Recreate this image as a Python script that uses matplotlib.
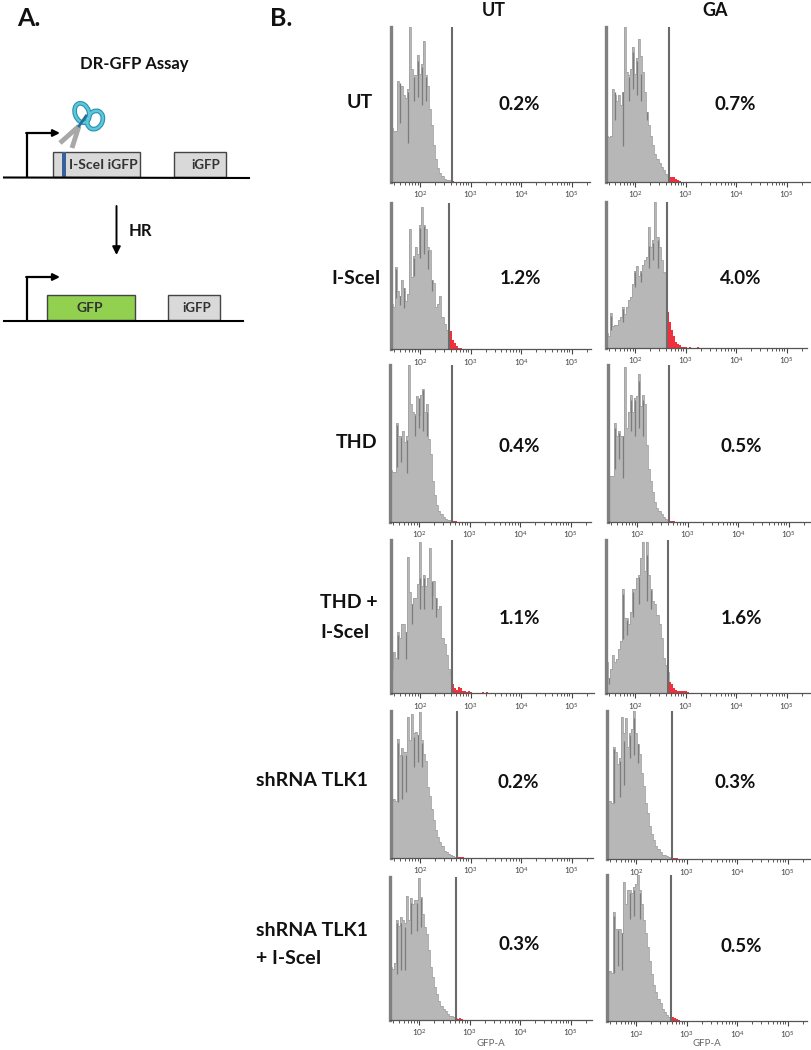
import matplotlib
matplotlib.use("Agg")
import matplotlib.pyplot as plt
import numpy as np
from matplotlib.patches import Ellipse, Rectangle
from matplotlib.ticker import FixedLocator, LogFormatterMathtext, NullFormatter

plt.rcParams['font.family'] = ['Lato', 'DejaVu Sans']

# histogram heights, % of the tallest bin, one value per 0.04 decade from 10^1.42
ut_ut = [35, 33, 33, 65, 62, 62, 56, 54, 60, 100, 73, 69, 69, 82, 70, 76, 91, 69, 62, 47, 37, 24, 15, 9, 6, 4, 2, 1.5, 1, 0.8, 0.5, 0.3]
ut_ga = [30, 29, 30, 60, 56, 52, 56, 50, 58, 100, 71, 69, 73, 87, 70, 80, 92, 81, 71, 58, 45, 37, 30, 24, 18, 15, 12, 10, 8, 5, 4, 3, 3, 3, 2, 1, 0.5, 0.3]
isce_ut = [31, 29, 56, 40, 36, 47, 42, 33, 38, 82, 49, 64, 70, 65, 85, 97, 85, 82, 70, 68, 47, 45, 29, 31, 36, 22, 17, 13, 8, 12, 6, 4, 2, 1, 0.5]
isce_ga = [10, 8, 24, 15, 16, 16, 19, 21, 28, 23, 28, 33, 35, 44, 53, 56, 49, 53, 57, 60, 62, 83, 69, 74, 100, 76, 69, 60, 52, 51,
           25, 18, 12, 8, 4, 3, 2, 1, 1, 0.5, 0, 0.5, 0, 0, 0, 0.5]
thd_ut = [33, 32, 32, 63, 55, 55, 58, 51, 55, 100, 75, 70, 69, 80, 68, 81, 85, 70, 75, 53, 43, 26, 17, 11, 7, 5, 3, 2, 1.5, 1, 0.8, 0.5, 0.4, 0.2]
thd_ga = [29, 29, 29, 63, 55, 58, 55, 55, 99, 60, 70, 81, 70, 79, 80, 94, 74, 81, 75, 49, 34, 26, 19, 13, 9, 7, 5, 3, 2, 1, 0.8, 0.6, 0.4, 0.2]
thd_isce_ut = [16, 27, 23, 40, 36, 45, 45, 40, 89, 66, 58, 62, 62, 71, 99, 70, 77, 70, 75, 95, 64, 73, 62, 55, 57, 36, 32, 25, 16, 12,
               6, 3, 2, 4, 3, 1.5, 1, 0.5, 1.5, 0.5, 0, 0, 0, 0, 0, 0.5, 0, 0.5]
thd_isce_ga = [20, 10, 16, 25, 20, 22, 29, 34, 68, 49, 49, 45, 53, 68, 68, 75, 77, 88, 99, 80, 99, 77, 68, 60, 58, 51, 45, 36, 23, 18, 14,
               7, 6, 3, 2, 1.5, 1, 1, 1, 1, 0.5]
sh_ut = [39, 40, 39, 81, 70, 75, 72, 72, 96, 80, 98, 85, 86, 84, 99, 80, 71, 66, 48, 42, 33, 26, 19, 14, 11, 8, 5, 4, 3, 2, 1.5, 1, 0.8,
         0.8, 0.7, 0.5, 0.3, 0.2]
sh_ga = [39, 39, 38, 76, 72, 64, 68, 96, 85, 95, 76, 85, 88, 100, 85, 78, 71, 58, 49, 38, 31, 22, 17, 13, 9, 7, 5, 3, 3, 2, 1.5, 1,
         0.9, 0.8, 0.5, 0.3, 0.2]
sh_isce_ut = [37, 36, 40, 70, 66, 72, 70, 68, 87, 70, 85, 81, 84, 84, 99, 86, 74, 65, 60, 49, 37, 30, 23, 18, 13, 10, 8, 6, 4, 3, 2.5, 2, 1.5,
              1, 1.2, 0.6, 0.3, 0.2]
sh_isce_ga = [33, 34, 33, 75, 63, 63, 63, 60, 95, 80, 90, 90, 88, 92, 94, 100, 90, 80, 69, 60, 51, 41, 32, 25, 20, 15, 12, 8, 6, 4, 3, 2,
              3, 2.2, 1.2, 0.7, 0.3, 0.2]

# darker streaks inside the fill: bin, low %, high %
ut_ut_dark = [(4, 38, 64), (8, 25, 58), (11, 52, 68), (13, 55, 78), (15, 50, 74), (17, 52, 68)]
ut_ga_dark = [(4, 40, 58), (8, 23, 58), (11, 52, 68), (13, 60, 84), (15, 56, 78), (17, 52, 70), (20, 40, 45)]
isce_ut_dark = [(2, 35, 55), (4, 30, 36), (6, 28, 42), (11, 50, 62), (14, 62, 83), (16, 65, 84), (18, 55, 68), (20, 40, 47)]
isce_ga_dark = [(2, 12, 22), (8, 18, 27), (14, 42, 52), (17, 45, 52), (21, 55, 70), (23, 60, 72), (25, 55, 74)]
thd_ut_dark = [(3, 35, 62), (5, 38, 54), (8, 31, 52), (12, 55, 68), (14, 60, 79), (16, 58, 84), (18, 55, 70)]
thd_ga_dark = [(3, 34, 60), (5, 40, 57), (7, 28, 55), (11, 58, 78), (13, 55, 78), (15, 60, 90), (17, 55, 78)]
thd_isce_ut_dark = [(3, 22, 38), (7, 22, 40), (10, 45, 58), (14, 55, 75), (16, 55, 75), (20, 55, 73), (22, 50, 62)]
thd_isce_ga_dark = [(1, 6, 10), (8, 35, 65), (10, 38, 48), (13, 50, 66), (16, 58, 76), (20, 60, 90), (22, 55, 67)]
sh_ut_dark = [(3, 38, 78), (5, 40, 70), (7, 45, 70), (11, 62, 82), (13, 65, 84), (15, 62, 78)]
sh_ga_dark = [(3, 38, 74), (6, 42, 66), (8, 50, 80), (11, 68, 84), (13, 70, 95), (15, 65, 78)]
sh_isce_ut_dark = [(3, 32, 68), (5, 35, 68), (7, 35, 65), (10, 60, 82), (13, 62, 82), (15, 65, 85)]
sh_isce_ga_dark = [(3, 33, 72), (5, 38, 62), (7, 35, 60), (11, 70, 88), (13, 72, 90), (16, 70, 88)]

series = [[ut_ut, ut_ga], [isce_ut, isce_ga], [thd_ut, thd_ga],
          [thd_isce_ut, thd_isce_ga], [sh_ut, sh_ga], [sh_isce_ut, sh_isce_ga]]
streaks = [[ut_ut_dark, ut_ga_dark], [isce_ut_dark, isce_ga_dark], [thd_ut_dark, thd_ga_dark],
           [thd_isce_ut_dark, thd_isce_ga_dark], [sh_ut_dark, sh_ga_dark], [sh_isce_ut_dark, sh_isce_ga_dark]]

# gate position, log10 of GFP-A
gates = [[2.63, 2.67], [2.57, 2.63], [2.65, 2.63], [2.63, 2.65], [2.73, 2.71], [2.73, 2.69]]
percent_labels = [['0.2%', '0.7%'], ['1.2%', '4.0%'], ['0.4%', '0.5%'],
                  ['1.1%', '1.6%'], ['0.2%', '0.3%'], ['0.3%', '0.5%']]
column_labels = ['UT', 'GA']

FIG_W, FIG_H = 812, 1050
LOG_MIN = 1.42
BIN = 0.04

# pixel layout of the panels
col_left = [[391, 606], [391, 606], [390, 608], [391, 606], [391, 607], [390, 607]]
col_right = [[590, 810], [591, 807], [591, 810], [594, 810], [593, 810], [592, 807]]
row_top = [[27, 27], [203, 202], [365, 365], [540, 540], [711, 711], [877, 875]]
row_base = [[182, 182], [349, 348], [522, 522], [693, 693], [858, 859], [1020, 1021]]
pct_pos = [[(519, 105), (735, 105)], [(520, 279), (741, 279)], [(519, 446), (741, 446)],
           [(519, 618), (741, 618)], [(518, 783), (735, 783)], [(519, 944), (741, 946)]]

fig = plt.figure(figsize=(FIG_W / 100, FIG_H / 100), dpi=100, facecolor='white')

# overlay in pixel coordinates for the schematic and the text
ov = fig.add_axes([0, 0, 1, 1])
ov.set_xlim(0, FIG_W)
ov.set_ylim(FIG_H, 0)
ov.axis('off')


def label(x, y, s, size=11, color='#111111', ha='center'):
    ov.text(x, y, s, fontsize=size, fontweight='bold', color=color, ha=ha, va='center')


def gene_box(x0, x1, y0, y1, fc, s, tx, size=9.5):
    ov.add_patch(Rectangle((x0, y0), x1 - x0, y1 - y0, fc=fc, ec='#444444', lw=1))
    label(tx, (y0 + y1) / 2 + 0.5, s, size=size, color='#333333')


def promoter(y0, y1, x_end):
    ov.plot([27, 27], [y0, y1], color='black', lw=1.6, solid_capstyle='butt')
    ov.annotate('', xy=(x_end, y1), xytext=(26.2, y1),
                arrowprops=dict(arrowstyle='-|>', color='black', lw=1.6, mutation_scale=10, shrinkA=0, shrinkB=0))


label(17, 19, 'A.', size=18, ha='left')
label(270, 19, 'B.', size=18, ha='left')
label(134, 64, 'DR-GFP Assay', size=12)

gene_box(53, 140, 152, 177, '#d9d9d9', 'I-SceI iGFP', 103, size=10)
ov.add_patch(Rectangle((62, 152), 4.5, 26, fc='#3a5f9a', ec='none'))
gene_box(174, 226, 152, 177, '#d9d9d9', 'iGFP', 206)
ov.plot([4, 249], [177.5, 178], color='black', lw=1.5)
promoter(177, 133, 60)

# scissors
ov.plot([79, 60], [126, 143], color='#a8a8a8', lw=3.5, solid_capstyle='butt')
ov.plot([79, 72], [126, 148], color='#a8a8a8', lw=3.5, solid_capstyle='butt')
for lw, col in [(3.4, '#2a8fb0'), (1.8, '#5cc8da')]:
    ov.add_patch(Ellipse((82, 113), 14, 20, angle=-20, fc='none', ec=col, lw=lw))
    ov.add_patch(Ellipse((95, 120), 15, 19, angle=25, fc='none', ec=col, lw=lw))
ov.plot([79, 86], [126, 116], color='#2a6f99', lw=2)

ov.annotate('', xy=(116.5, 255), xytext=(116.5, 206),
            arrowprops=dict(arrowstyle='-|>', color='black', lw=1.4, mutation_scale=12, shrinkA=0, shrinkB=0))
label(140, 231, 'HR', size=12)

gene_box(47, 135, 295, 320, '#92d050', 'GFP', 90, size=10)
gene_box(168, 220, 295, 320, '#d9d9d9', 'iGFP', 197)
ov.plot([4, 243], [321, 321], color='black', lw=1.5)
promoter(321, 277, 60)

label(494, 10, column_labels[0], size=13)
label(715, 10, column_labels[1], size=13)
label(373, 102, 'UT', size=14, ha='right')
label(381, 278, 'I-SceI', size=14, ha='right')
label(377, 443, 'THD', size=14, ha='right')
label(320, 603, 'THD +', size=14, ha='left')
label(320, 632, 'I-SceI', size=14, ha='left')
label(256, 780, 'shRNA TLK1', size=14, ha='left')
label(256, 931, 'shRNA TLK1', size=14, ha='left')
label(256, 959, '+ I-SceI', size=14, ha='left')

major = [1e2, 1e3, 1e4, 1e5]
minor = [m * 10.0 ** k for k in range(1, 6) for m in range(2, 10)]

for r in range(6):
    for c in range(2):
        left, right = col_left[r][c], col_right[r][c]
        top, base = row_top[r][c], row_base[r][c]
        ax = fig.add_axes([left / FIG_W, 1 - base / FIG_H, (right - left) / FIG_W, (base - top) / FIG_H])
        ax.patch.set_alpha(0)
        vals = np.array(series[r][c], dtype=float)
        edges_log = LOG_MIN + BIN * np.arange(len(vals) + 1)
        edges = 10 ** edges_log
        centers = edges_log[:-1] + BIN / 2
        n_gray = int(np.sum(centers < gates[r][c]))
        ax.stairs(vals[:n_gray], edges[:n_gray + 1], fill=True, color='#b7b7b7')
        ax.stairs(vals[:n_gray], edges[:n_gray + 1], color='#a2a2a2', lw=0.6)
        ax.stairs(vals[n_gray:], edges[n_gray:], fill=True, color='#f0303c')
        for b, lo, hi in streaks[r][c]:
            ax.vlines(10 ** centers[b], lo, hi, color='#7c7c7c', lw=0.9)
        ax.axvline(10 ** gates[r][c], color='#6a6a6a', lw=1.5)
        ax.set_xscale('log')
        ax.set_xlim(10 ** LOG_MIN, 10 ** (LOG_MIN + (right - left) / 50.5))
        ax.set_ylim(0, 100)
        ax.set_yticks([])
        for s in ['top', 'right']:
            ax.spines[s].set_visible(False)
        ax.spines['left'].set_color('#808080')
        ax.spines['left'].set_linewidth(2.4)
        ax.spines['bottom'].set_color('#555555')
        ax.spines['bottom'].set_linewidth(0.9)
        ax.xaxis.set_major_locator(FixedLocator(major))
        ax.xaxis.set_minor_locator(FixedLocator(minor))
        ax.xaxis.set_major_formatter(LogFormatterMathtext())
        ax.xaxis.set_minor_formatter(NullFormatter())
        ax.tick_params(axis='x', which='major', length=3.4, width=0.8, color='#444444', labelsize=6,
                       labelcolor='#444444', pad=2)
        ax.tick_params(axis='x', which='minor', length=2.2, width=0.7, color='#555555')
        px, py = pct_pos[r][c]
        label(px, py, percent_labels[r][c], size=13.5)
        if r == 5:
            ax.set_xlabel('GFP-A', fontsize=7, color='#666666', labelpad=0)

fig.savefig('out.png', dpi=100)
